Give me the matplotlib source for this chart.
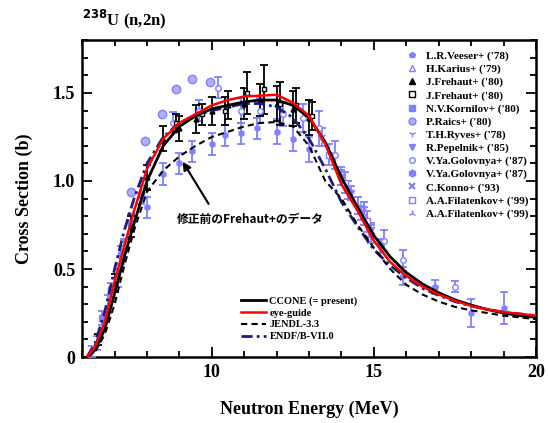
import matplotlib
matplotlib.use("Agg")
import matplotlib.pyplot as plt
from matplotlib.lines import Line2D
from matplotlib.ticker import MultipleLocator, FuncFormatter

# evaluated curves (MeV, barn)
energy = [6.15, 6.4, 6.7, 7.0, 7.3, 7.6, 8.0, 8.5, 9.0, 9.5, 10.0, 10.5, 11.0, 11.5,
          12.0, 12.5, 13.0, 13.5, 14.0, 14.5, 15.0, 15.5, 16.0, 16.5, 17.0, 17.5,
          18.0, 18.5, 19.0, 19.5, 20.0]
ccone = [0.0, 0.04, 0.16, 0.36, 0.57, 0.76, 1.00, 1.20, 1.31, 1.37, 1.41, 1.43, 1.45, 1.46,
         1.46, 1.43, 1.36, 1.22, 1.02, 0.85, 0.69, 0.57, 0.48, 0.415, 0.365, 0.325,
         0.295, 0.27, 0.25, 0.235, 0.225]
eye_guide = [0.0, 0.06, 0.20, 0.43, 0.63, 0.83, 1.07, 1.24, 1.33, 1.38, 1.43, 1.46, 1.48, 1.485,
             1.49, 1.445, 1.37, 1.21, 0.98, 0.83, 0.66, 0.54, 0.46, 0.40, 0.355, 0.32,
             0.29, 0.27, 0.255, 0.245, 0.235]
jendl33 = [0.0, 0.03, 0.13, 0.30, 0.52, 0.72, 0.94, 1.06, 1.14, 1.20, 1.25, 1.28, 1.31, 1.33,
           1.335, 1.31, 1.20, 1.00, 0.90, 0.75, 0.62, 0.50, 0.41, 0.355, 0.315, 0.285,
           0.265, 0.25, 0.235, 0.225, 0.215]
endfb7 = [0.0, 0.08, 0.26, 0.50, 0.72, 0.90, 1.10, 1.25, 1.33, 1.37, 1.40, 1.42, 1.44, 1.44,
          1.42, 1.36, 1.24, 1.07, 0.88, 0.74, 0.61, 0.52, 0.45, 0.39, 0.35, 0.315,
          0.29, 0.27, 0.255, 0.245, 0.235]

# experimental data: (energy, xs, error)
veeser_e = [14.2, 14.9, 15.9, 16.9]
veeser_xs = [0.95, 0.70, 0.46, 0.40]
veeser_err = [0.05, 0.05, 0.05, 0.04]

karius_e = [14.7]
karius_xs = [0.80]
karius_err = [0.05]

frehaut_a_e = [6.5, 7.0, 7.5, 8.0, 8.5, 9.0, 9.5, 10.0, 10.5, 11.0, 11.5, 12.0, 12.5, 13.0]
frehaut_a_xs = [0.10, 0.42, 0.74, 1.02, 1.24, 1.30, 1.35, 1.40, 1.43, 1.44, 1.46, 1.44, 1.41, 1.36]
frehaut_a_err = [0.03, 0.05, 0.06, 0.07, 0.07, 0.07, 0.08, 0.08, 0.08, 0.09, 0.09, 0.1, 0.1, 0.1]

frehaut_b_e = [8.9, 9.7, 10.4, 11.1, 11.6, 12.1, 12.6, 13.1]
frehaut_b_xs = [1.33, 1.38, 1.40, 1.50, 1.52, 1.44, 1.43, 1.37]
frehaut_b_err = [0.05, 0.06, 0.08, 0.12, 0.14, 0.12, 0.10, 0.08]

kornilov_e = [6.6, 6.9, 7.2, 7.5, 7.8]
kornilov_xs = [0.22, 0.38, 0.58, 0.76, 0.92]
kornilov_err = [0.04, 0.04, 0.05, 0.05, 0.05]

raics_e = [7.5, 7.95, 8.45, 8.9, 9.4, 9.95]
raics_xs = [0.94, 1.23, 1.38, 1.52, 1.58, 1.56]

ryves_e = [14.7]
ryves_xs = [0.84]
ryves_err = [0.04]

pepelnik_e = [14.0, 14.3, 14.6, 14.9, 15.2]
pepelnik_xs = [1.02, 0.93, 0.82, 0.72, 0.63]
pepelnik_err = [0.04, 0.04, 0.04, 0.04, 0.04]

golovnya_o_e = [8.8, 9.6, 10.2, 10.9, 11.5, 12.2, 12.8, 13.3, 13.8, 15.3, 15.9, 17.5]
golovnya_o_xs = [1.33, 1.40, 1.53, 1.40, 1.40, 1.38, 1.36, 1.30, 1.15, 0.66, 0.55, 0.40]
golovnya_o_err = [0.06, 0.06, 0.06, 0.07, 0.07, 0.07, 0.08, 0.1, 0.08, 0.06, 0.06, 0.03]

golovnya_f_e = [8.0, 8.5, 9.0, 9.4, 10.0, 10.4, 10.9, 11.4, 12.0, 12.5, 13.0, 18.0, 19.0]
golovnya_f_xs = [0.85, 1.04, 1.10, 1.17, 1.21, 1.26, 1.27, 1.30, 1.28, 1.24, 1.18, 0.25, 0.28]
golovnya_f_err = [0.06, 0.06, 0.06, 0.06, 0.06, 0.06, 0.06, 0.06, 0.07, 0.07, 0.07, 0.08, 0.09]

konno_e = [13.4, 14.0, 14.5]
konno_xs = [1.25, 1.03, 0.86]
konno_err = [0.05, 0.05, 0.05]

filatenkov_a_e = [13.6, 14.1, 14.8]
filatenkov_a_xs = [1.15, 0.99, 0.77]
filatenkov_a_err = [0.06, 0.06, 0.06]

filatenkov_b_e = [6.3, 6.45, 6.8, 7.1, 7.3]
filatenkov_b_xs = [0.03, 0.08, 0.30, 0.45, 0.62]
filatenkov_b_err = [0.03, 0.04, 0.05, 0.05, 0.05]

LAV = "#7f7fff"
LAV_LIGHT = "#b0b0ff"

plt.rcParams["font.family"] = ["Liberation Serif", "DejaVu Serif"]
plt.rcParams["font.weight"] = "bold"

fig = plt.figure(figsize=(5.48, 4.23), dpi=100)
ax = fig.add_axes([0.150, 0.156, 0.828, 0.749])


def expt(e, xs, err, marker, color=LAV, mfc=None, ms=4):
    if mfc is None:
        mfc = color
    ax.errorbar(e, xs, yerr=err, fmt=marker, color=color, mfc=mfc, mec=color,
                ms=ms, elinewidth=1.3, capsize=3, capthick=1.3, zorder=3)


expt(veeser_e, veeser_xs, veeser_err, "p")
expt(karius_e, karius_xs, karius_err, "^", mfc="white")
expt(golovnya_f_e, golovnya_f_xs, golovnya_f_err, "h")
expt(golovnya_o_e, golovnya_o_xs, golovnya_o_err, "o", mfc="white")
expt(kornilov_e, kornilov_xs, kornilov_err, "s")
expt(ryves_e, ryves_xs, ryves_err, "1")
expt(pepelnik_e, pepelnik_xs, pepelnik_err, "v")
expt(konno_e, konno_xs, konno_err, "x")
expt(filatenkov_a_e, filatenkov_a_xs, filatenkov_a_err, "s", mfc="white")
expt(filatenkov_b_e, filatenkov_b_xs, filatenkov_b_err, "2")
ax.plot(raics_e, raics_xs, "o", color=LAV_LIGHT, mec=LAV, ms=6, zorder=3)
expt(frehaut_a_e, frehaut_a_xs, frehaut_a_err, "^", color="black", ms=3.5)
expt(frehaut_b_e, frehaut_b_xs, frehaut_b_err, "s", color="black", mfc="white", ms=3.5)

# evaluations
l1, = ax.plot(energy, ccone, color="black", lw=2.0, zorder=5)
l2, = ax.plot(energy, eye_guide, color="red", lw=1.8, zorder=6)
l3, = ax.plot(energy, jendl33, color="black", lw=1.5, ls=(0, (3, 2)), zorder=5)
l4, = ax.plot(energy, endfb7, color="#1c1c80", lw=2.0, ls=(0, (4, 1.5, 1, 1.5)), zorder=4)

ax.set_xlim(6, 20)
ax.set_ylim(0, 1.8)
ax.xaxis.set_major_locator(MultipleLocator(5))
ax.xaxis.set_minor_locator(MultipleLocator(1))
ax.yaxis.set_major_locator(MultipleLocator(0.5))
ax.yaxis.set_minor_locator(MultipleLocator(0.1))
ax.yaxis.set_major_formatter(FuncFormatter(lambda v, p: "0" if v == 0 else f"{v:.1f}"))
ax.tick_params(which="both", direction="in", top=True, right=True, labelsize=13, width=1.3)
ax.tick_params(which="major", length=7, pad=5)
ax.tick_params(which="minor", length=4)
for s in ax.spines.values():
    s.set_linewidth(1.8)

ax.set_xlabel("Neutron Energy (MeV)", fontsize=13, fontweight="bold", labelpad=14)
ax.set_ylabel("Cross Section (b)", fontsize=13, fontweight="bold", labelpad=14)
fig.text(0.15, 0.955, "$\\mathbf{^{238}}$U (n,2n)", fontsize=12, fontweight="bold",
         ha="left", va="center")

# legend for experimental data
data_handles = [
    Line2D([], [], ls="none", marker="p", color=LAV, ms=4),
    Line2D([], [], ls="none", marker="^", color=LAV, mfc="white", ms=4),
    Line2D([], [], ls="none", marker="^", color="black", ms=4),
    Line2D([], [], ls="none", marker="s", color="black", mfc="white", ms=4),
    Line2D([], [], ls="none", marker="s", color=LAV, ms=4),
    Line2D([], [], ls="none", marker="o", color=LAV_LIGHT, mec=LAV, ms=5),
    Line2D([], [], ls="none", marker="1", color=LAV, ms=5),
    Line2D([], [], ls="none", marker="v", color=LAV, ms=4),
    Line2D([], [], ls="none", marker="o", color=LAV, mfc="white", ms=4),
    Line2D([], [], ls="none", marker="h", color=LAV, ms=5),
    Line2D([], [], ls="none", marker="x", color=LAV, ms=4, mew=1.5),
    Line2D([], [], ls="none", marker="s", color=LAV, mfc="white", ms=4),
    Line2D([], [], ls="none", marker="2", color=LAV, ms=5),
]
data_labels = ["L.R.Veeser+ ('78)", "H.Karius+ ('79)", "J.Frehaut+ ('80)", "J.Frehaut+ ('80)",
               "N.V.Kornilov+ ('80)", "P.Raics+ ('80)", "T.H.Ryves+ ('78)", "R.Pepelnik+ ('85)",
               "V.Ya.Golovnya+ ('87)", "V.Ya.Golovnya+ ('87)", "C.Konno+ ('93)",
               "A.A.Filatenkov+ ('99)", "A.A.Filatenkov+ ('99)"]
leg1 = ax.legend(data_handles, data_labels, loc="upper right", bbox_to_anchor=(1.0, 0.99),
                 frameon=False, handlelength=0.8, handletextpad=0.8,
                 labelspacing=0.28, borderaxespad=0.3,
                 prop={"family": "Liberation Serif", "weight": "bold", "size": 8})
ax.add_artist(leg1)

ax.legend([l1, l2, l3, l4], ["CCONE (= present)", "eye-guide", "JENDL-3.3", "ENDF/B-VII.0"],
          loc="lower left", bbox_to_anchor=(0.33, 0.02), frameon=False,
          handlelength=2.4, handletextpad=0.3, labelspacing=0.25,
          prop={"family": "Liberation Serif", "weight": "bold", "size": 7.5})

# arrow to the uncorrected Frehaut points, label underneath
ax.annotate("", xy=(9.1, 1.11), xytext=(9.9, 0.87),
            arrowprops=dict(arrowstyle="-|>", color="black", lw=1.5,
                            shrinkA=0, shrinkB=0, mutation_scale=12))
ax.text(11.2, 0.78, "修正前のFrehaut+のデータ", ha="center", va="center",
        fontsize=8.5, fontweight="bold", family=["Noto Sans CJK JP", "DejaVu Sans"])

fig.savefig("out.png", dpi=100)
